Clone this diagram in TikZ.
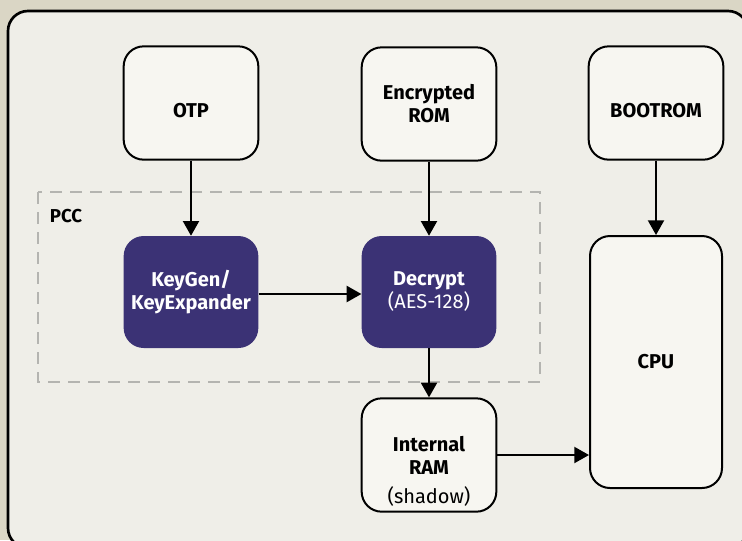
\documentclass[tikz,border=0pt]{standalone}
\usepackage{fontspec}
\setmainfont{Fira Sans}
\usetikzlibrary{arrows.meta,positioning}
\definecolor{paper}{HTML}{DAD6C5}
\definecolor{panel}{HTML}{EFEEE8}
\definecolor{boxfill}{HTML}{F7F6F1}
\definecolor{pccblue}{HTML}{3B3275}
\definecolor{dashgrey}{HTML}{B4B4B0}

\tikzset{
  block/.style={draw=black,line width=1.5pt,fill=boxfill,rounded corners=15pt,
    minimum width=101pt,minimum height=85pt,align=center,font=\fontsize{15}{17.25}\selectfont\bfseries},
  engine/.style={fill=pccblue,text=white,rounded corners=15pt,
    minimum width=101pt,minimum height=84pt,align=center,font=\fontsize{15}{17.25}\selectfont\bfseries},
  lowtext/.style={text height=21pt,text depth=0pt},
  flow/.style={-{Triangle[length=11pt,width=12pt]},line width=1.5pt},
}

\begin{document}
\begin{tikzpicture}[x=0.75pt,y=-0.75pt]
 \useasboundingbox (0,0) rectangle (742,540);
 \clip (0,0) rectangle (742,540);
 \fill[paper] (0,0) rectangle (742,540);
 % outer panel
 \draw[fill=panel,line width=2pt,rounded corners=15pt] (8,11) rectangle (748,548);
 % PCC region
 \draw[dashgrey,line width=1.5pt,dash pattern=on 9pt off 6pt] (38,192) rectangle (540,382);
 \node[font=\fontsize{14}{16}\selectfont\bfseries] (pcc) at (66,216) {PCC};

 \node[block,lowtext] (otp) at (191,103) {OTP};
 \node[block] (rom) at (429,104) {Encrypted\\ROM};
 \node[block,lowtext] (bootrom) at (656,103) {BOOTROM};
 \node[engine] (keygen) at (191,292) {KeyGen/\\KeyExpander};
 \node[engine] (decrypt) at (429,292) {Decrypt\\\mdseries(AES-128)};
 \node[block,label={[anchor=south,inner sep=4.5pt,font=\fontsize{15}{17}\selectfont]south:(shadow)}]
   (ram) at (429,455) {Internal\\RAM};
 \node[block,minimum width=99pt,minimum height=189pt] (cpu) at (656,362) {CPU};

 \draw[flow] (otp) -- (keygen);
 \draw[flow] (rom) -- (decrypt);
 \draw[flow] (bootrom) -- (cpu);
 \draw[flow] (keygen.east |- 0,294) -- (decrypt.west |- 0,294);
 \draw[flow] (decrypt) -- (ram);
 \draw[flow] (ram) -- (cpu.west |- ram);
\end{tikzpicture}
\end{document}
